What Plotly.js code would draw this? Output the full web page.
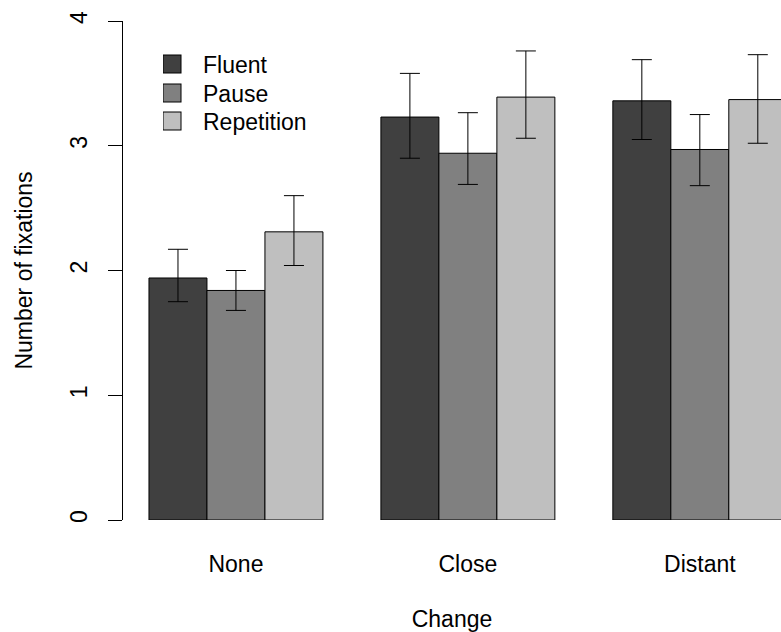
<!DOCTYPE html>
<html>
<head>
<meta charset="utf-8">
<script src="https://cdn.plot.ly/plotly-3.0.1.min.js"></script>
<style>html,body{margin:0;padding:0;background:#fff;}#chart{width:781px;height:632px;}</style>
</head>
<body>
<div id="chart"></div>
<script>
// Data
const groups = ["None", "Close", "Distant"];
const seriesNames = ["Fluent", "Pause", "Repetition"];
const fluent = [1.94, 3.23, 3.36];
const pause = [1.84, 2.94, 2.97];
const repetition = [2.31, 3.39, 3.37];
const fluentUpper = [2.17, 3.58, 3.69];
const fluentLower = [1.75, 2.90, 3.05];
const pauseUpper = [2.00, 3.265, 3.25];
const pauseLower = [1.68, 2.69, 2.68];
const repetitionUpper = [2.60, 3.76, 3.73];
const repetitionLower = [2.04, 3.06, 3.02];
const yTicks = [0, 1, 2, 3, 4];

const colors = ["#404040", "#808080", "#bfbfbf"];
const values = [fluent, pause, repetition];
const uppers = [fluentUpper, pauseUpper, repetitionUpper];
const lowers = [fluentLower, pauseLower, repetitionLower];
const legendIds = ["legend", "legend2", "legend3"];
const legendRowY = [0.9138, 0.8557, 0.7996];

// R barplot(beside=TRUE) positions: each group has 3 bars + 1 gap
const groupCenters = groups.map((g, i) => 4 * i + 2.5);
const traces = seriesNames.map((name, s) => ({
  type: "bar",
  name: name,
  legend: legendIds[s],
  x: groups.map((g, i) => 4 * i + s + 1.5),
  y: values[s],
  width: 1,
  marker: {color: colors[s], line: {color: "#000", width: 1}},
  error_y: {
    type: "data",
    symmetric: false,
    array: values[s].map((v, i) => uppers[s][i] - v),
    arrayminus: values[s].map((v, i) => v - lowers[s][i]),
    color: "#000",
    thickness: 1,
    width: 10
  },
  hoverinfo: "skip"
}));

const font = {family: "Liberation Sans, Arial, sans-serif", size: 23, color: "#000"};

const layout = {
  width: 781,
  height: 632,
  margin: {l: 123, r: 0, t: 21, b: 112, pad: 0},
  paper_bgcolor: "#fff",
  plot_bgcolor: "#fff",
  font: font,
  barmode: "overlay",
  showlegend: true,
  xaxis: {
    range: [0.552, 11.9],
    tickmode: "array",
    tickvals: groupCenters,
    ticktext: groups,
    showline: false,
    showgrid: false,
    zeroline: false,
    ticks: "",
    ticklabelstandoff: 28,
    tickfont: font,
    title: {text: "Change", font: font, standoff: 38},
    fixedrange: true
  },
  yaxis: {
    range: [0, 4],
    tickmode: "array",
    tickvals: yTicks,
    ticktext: yTicks.map(String),
    showline: true,
    linecolor: "#000",
    linewidth: 1,
    showgrid: false,
    zeroline: false,
    ticks: "outside",
    ticklen: 14,
    tickcolor: "#000",
    tickwidth: 1,
    tickangle: -90,
    ticklabelstandoff: 12,
    tickfont: font,
    title: {text: "Number of fixations", font: font, standoff: 26},
    fixedrange: true
  }
};
legendIds.forEach((id, s) => {
  layout[id] = {
    x: 0.0608, y: legendRowY[s], xanchor: "left", yanchor: "middle",
    font: font, bgcolor: "rgba(0,0,0,0)", borderwidth: 0,
    tracegroupgap: 0, itemwidth: 30
  };
});

Plotly.newPlot("chart", traces, layout, {displayModeBar: false, staticPlot: true}).then(gd => {
  // enlarge legend swatches to match the reference's bigger squares
  gd.querySelectorAll(".legendpoints path").forEach(p => {
    p.setAttribute("transform", "translate(9,0) scale(1.5)");
    p.style.strokeWidth = "0.67px";
  });
});
</script>
</body>
</html>
